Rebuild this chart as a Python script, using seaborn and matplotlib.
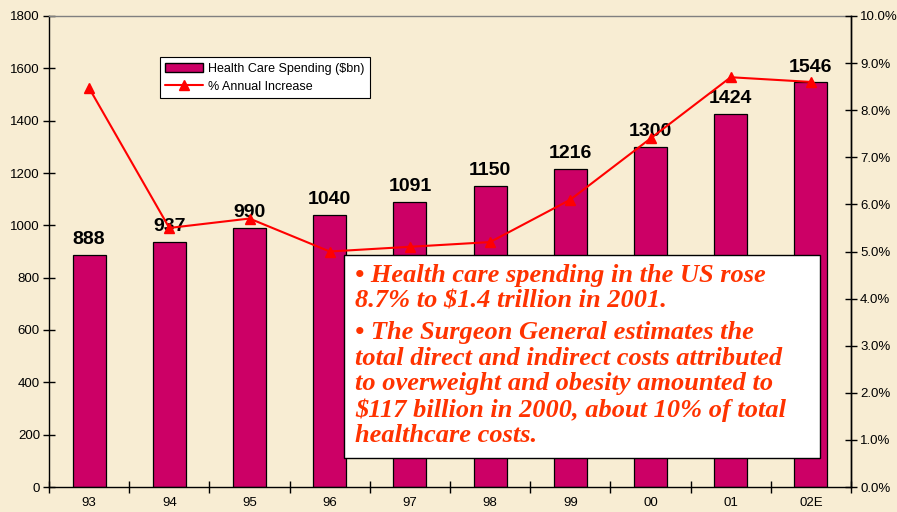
import numpy as np
import pandas as pd
import matplotlib
matplotlib.use("Agg")
import matplotlib.pyplot as plt
from matplotlib.patches import Rectangle
from matplotlib.lines import Line2D
import seaborn as sns

# data
years = ["93", "94", "95", "96", "97", "98", "99", "00", "01", "02E"]
spending = [888, 937, 990, 1040, 1091, 1150, 1216, 1300, 1424, 1546]
pct_increase = [8.47, 5.5, 5.7, 5.0, 5.1, 5.2, 6.1, 7.4, 8.7, 8.6]

bullet_1 = "\u2022 Health care spending in the US rose\n8.7% to $1.4 trillion in 2001."
bullet_2 = ("\u2022 The Surgeon General estimates the\n"
            "total direct and indirect costs attributed\n"
            "to overweight and obesity amounted to\n"
            "$117 billion in 2000, about 10% of total\n"
            "healthcare costs.")

df = pd.DataFrame({"year": years, "spend": spending, "pct": pct_increase})

sns.set_theme(style="ticks")
plt.rcParams["font.family"] = ["Liberation Sans", "DejaVu Sans"]
plt.rcParams["text.color"] = "black"
plt.rcParams["xtick.color"] = "black"
plt.rcParams["ytick.color"] = "black"
plt.rcParams["xtick.labelcolor"] = "black"
plt.rcParams["ytick.labelcolor"] = "black"

bg = "#F8EDD3"
bar_col = "#CC0066"

fig = plt.figure(figsize=(8.97, 5.12), dpi=100, facecolor=bg)
ax = fig.add_axes([49 / 897, 25 / 512, 802 / 897, 471 / 512])
ax.set_facecolor("none")

sns.barplot(data=df, x="year", y="spend", color=bar_col, saturation=1,
            width=0.41, edgecolor="black", linewidth=0.9, ax=ax)
ax.set_ylim(0, 1800)
ax.set_yticks(range(0, 1801, 200))
ax.set_xlim(-0.5, 9.5)
ax.set_xlabel("")
ax.set_ylabel("")
ax.bar_label(ax.containers[0], fontsize=14, fontweight="bold", padding=5,
             color="black")

# spines
for s in ["left", "bottom", "right"]:
    ax.spines[s].set_color("black")
    ax.spines[s].set_linewidth(1)
ax.spines["top"].set_color("#808080")
ax.spines["top"].set_linewidth(1)

ax.tick_params(axis="y", direction="inout", length=9, width=1, labelsize=9.5,
               pad=2)
ax.set_xticks(np.arange(-0.5, 10, 1), minor=True)
ax.tick_params(axis="x", which="major", length=0, labelsize=9.5, pad=7)
ax.tick_params(axis="x", which="minor", direction="inout", length=8, width=1)

ax2 = ax.twinx()
ax2.set_facecolor("none")
ax2.plot(range(len(years)), pct_increase, color="#FF0000", lw=1.5,
         marker="^", ms=7, mfc="#FF0000", mec="#FF0000")
ax2.set_ylim(0, 10)
ax2.set_yticks(np.arange(0, 10.01, 1))
ax2.set_yticklabels([f"{v:.1f}%" for v in np.arange(0, 10.01, 1)])
ax2.tick_params(axis="y", direction="inout", length=9, width=1, labelsize=9.5,
                pad=2)
for s in ["top", "left", "bottom"]:
    ax2.spines[s].set_visible(False)
ax2.spines["right"].set_color("black")
ax2.spines["right"].set_linewidth(1)
ax2.grid(False)
ax.grid(False)

handles = [Rectangle((0, 0), 1, 1, facecolor=bar_col, edgecolor="black", lw=1),
           Line2D([], [], color="#FF0000", lw=1.5, marker="^", ms=7)]
leg = ax2.legend(handles, ["Health Care Spending ($bn)", "% Annual Increase"],
                 loc="upper left", bbox_to_anchor=(0.138, 0.913), borderaxespad=0,
                 fontsize=9, frameon=True, fancybox=False, framealpha=1,
                 edgecolor="black", facecolor="white", handlelength=3.0,
                 handletextpad=0.4, labelspacing=0.5, borderpad=0.45)
leg.get_frame().set_linewidth(0.8)

# text box
box = Rectangle((344 / 897, 1 - 458 / 512), 476 / 897, 203 / 512,
                transform=fig.transFigure, facecolor="white", edgecolor="black",
                lw=1, zorder=10)
fig.patches.append(box)
tfont = dict(family=["Liberation Serif", "DejaVu Serif"], style="italic",
             weight="bold", color="#FF3300", fontsize=19, linespacing=1.15,
             va="top", ha="left", zorder=11)
fig.text(355 / 897, 1 - 264 / 512, bullet_1, **tfont)
fig.text(355 / 897, 1 - 321 / 512, bullet_2, **tfont)

fig.savefig("out.png", dpi=100, facecolor=bg)
